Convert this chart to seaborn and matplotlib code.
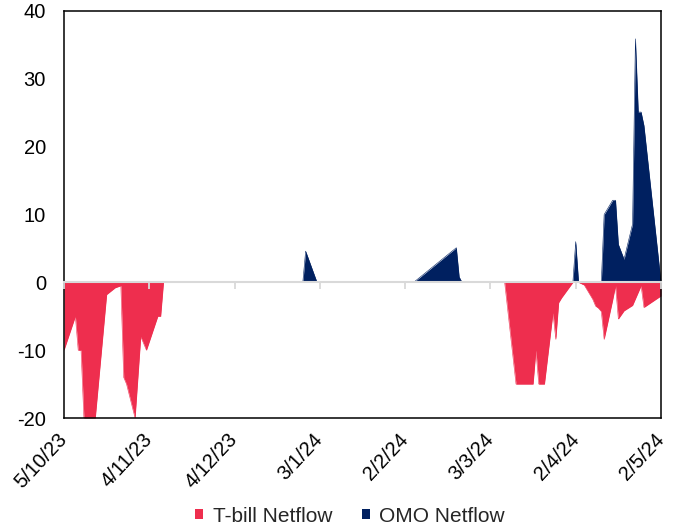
import matplotlib
matplotlib.use("Agg")
import matplotlib.pyplot as plt
import matplotlib.dates as mdates
from matplotlib.patches import Patch
import seaborn as sns
import pandas as pd

# ---------------- data ----------------
tbill_dates = ["2023-10-05", "2023-10-09", "2023-10-10", "2023-10-11", "2023-10-12",
               "2023-10-16", "2023-10-20", "2023-10-23", "2023-10-25", "2023-10-26",
               "2023-10-27", "2023-10-30", "2023-11-01", "2023-11-03", "2023-11-07",
               "2023-11-08", "2023-11-09",
               "2024-03-08", "2024-03-12", "2024-03-18", "2024-03-19", "2024-03-20",
               "2024-03-22", "2024-03-25", "2024-03-26", "2024-03-27", "2024-03-28",
               "2024-04-01", "2024-04-03", "2024-04-05", "2024-04-08", "2024-04-09",
               "2024-04-10", "2024-04-11", "2024-04-12", "2024-04-15", "2024-04-16",
               "2024-04-17", "2024-04-19", "2024-04-22", "2024-04-25", "2024-04-26",
               "2024-05-02"]
tbill_values = [-10, -5, -10, -10, -20,
                -20, -1.8, -0.8, -0.5, -14,
                -15, -20, -8, -10, -5,
                -5, 0,
                0, -15, -15, -10, -15,
                -15, -4.5, -8.4, -3.0, -2.3,
                0, 0, -0.4, -2.5, -3.5,
                -3.8, -4.3, -8.4, -2.6, -0.5,
                -5.4, -4.2, -3.4, -0.5, -3.7,
                -2.0]

omo_dates = ["2023-10-05", "2023-12-28", "2023-12-29", "2024-01-02",
             "2024-02-05", "2024-02-20", "2024-02-21", "2024-02-22",
             "2024-04-01", "2024-04-02", "2024-04-03", "2024-04-11", "2024-04-12",
             "2024-04-15", "2024-04-16", "2024-04-17", "2024-04-19", "2024-04-22",
             "2024-04-23", "2024-04-24", "2024-04-25", "2024-04-26", "2024-05-02"]
omo_values = [0, 0, 4.6, 0,
              0, 5.1, 0.8, 0,
              0, 6.0, 0, 0, 10.0,
              12.1, 12.1, 5.6, 3.4, 8.6,
              35.9, 25.1, 25.1, 23.1, 0]

series_names = ["T-bill Netflow", "OMO Netflow"]
series_colors = ["#EE2E4E", "#002060"]

tick_dates = ["2023-10-05", "2023-11-04", "2023-12-04", "2024-01-03",
              "2024-02-02", "2024-03-03", "2024-04-02", "2024-05-02"]
tick_labels = ["5/10/23", "4/11/23", "4/12/23", "3/1/24",
               "2/2/24", "3/3/24", "2/4/24", "2/5/24"]
y_ticks = [-20, -10, 0, 10, 20, 30, 40]

# ---------------- style ----------------
sns.set_theme(style="white")
plt.rcParams['font.family'] = ['Liberation Sans', 'DejaVu Sans']

fig = plt.figure(figsize=(6.75, 5.26), dpi=100)
ax = fig.add_axes([64 / 675, 1 - 418 / 526, (661 - 64) / 675, (418 - 11) / 526])

frames = [
    pd.DataFrame({"date": pd.to_datetime(tbill_dates), "value": tbill_values}),
    pd.DataFrame({"date": pd.to_datetime(omo_dates), "value": omo_values}),
]

for df, color in zip(frames, series_colors):
    sns.lineplot(data=df, x="date", y="value", color=color, linewidth=0.4,
                 ax=ax, zorder=2)
    ax.fill_between(df["date"], df["value"], 0, color=color, linewidth=0, zorder=2)

tick_nums = mdates.date2num(pd.to_datetime(tick_dates))
ax.set_xlim(tick_nums[0], tick_nums[-1])
ax.set_ylim(-20, 40)
ax.set_yticks(y_ticks)
ax.set_yticklabels([str(v) for v in y_ticks], fontsize=14.5)
ax.set_xticks(tick_nums)
ax.set_xticklabels(tick_labels, rotation=47, ha="right", va="center",
                   rotation_mode="anchor", fontsize=14.5)
ax.set_xlabel("")
ax.set_ylabel("")
ax.tick_params(axis="both", length=0, colors="black")
ax.tick_params(axis="y", pad=13)
ax.tick_params(axis="x", pad=13)
for sp in ax.spines.values():
    sp.set_color("black")
    sp.set_linewidth(1.1)
    sp.set_visible(True)
ax.grid(False)

# zero line with tick marks (category axis crossing at 0)
secax = ax.secondary_xaxis(0, transform=ax.transData)
secax.set_xticks(tick_nums)
secax.set_xticklabels([""] * len(tick_nums))
secax.tick_params(axis="x", direction="out", length=5, width=1.3,
                  color="#D9D9D9", labelbottom=False)
for sp in secax.spines.values():
    sp.set_color("#D9D9D9")
    sp.set_linewidth(1.5)
secax.set_zorder(5)

handles = [Patch(facecolor=c, edgecolor="none", label=n)
           for n, c in zip(series_names, series_colors)]
fig.legend(handles=handles, loc="center", bbox_to_anchor=(350 / 675, 1 - 516 / 526),
           ncol=2, frameon=False, fontsize=15, handlelength=0.4, handleheight=0.4,
           handletextpad=0.45, columnspacing=1.4)

fig.savefig("out.png", dpi=100)
